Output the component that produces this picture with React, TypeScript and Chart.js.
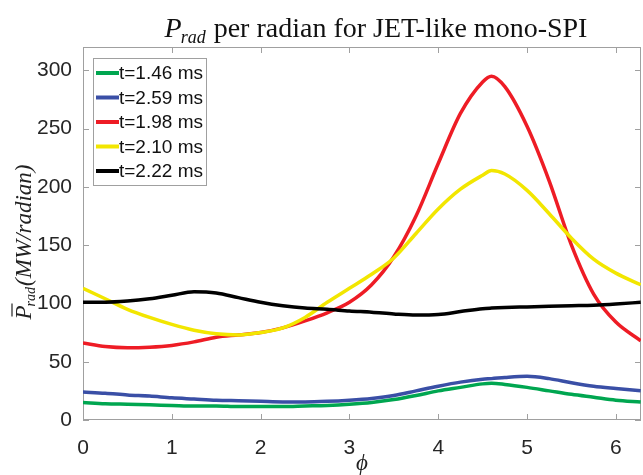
import React, { useEffect, useRef } from 'react';
import { Chart, registerables } from 'chart.js';

Chart.register(...registerables);

const PHI = [0, 0.25, 0.5, 0.75, 1, 1.25, 1.5, 1.75, 2, 2.25, 2.5, 2.75, 3, 3.25, 3.5, 3.75, 4, 4.25, 4.5, 4.6, 4.75, 5, 5.25, 5.5, 5.75, 6, 6.28];

const T146 = [15, 14, 13.5, 13, 12.5, 12, 12, 11.5, 11.5, 11.5, 12, 12.5, 13.5, 15, 17.5, 21, 25, 28, 31, 31.5, 30.5, 28, 25, 22, 19.5, 17, 15.5];
const T259 = [24, 23, 21.5, 20.5, 19, 18, 17, 16.5, 16, 15.5, 15.5, 16, 17, 18.5, 21, 25, 29, 32.5, 35, 35.5, 36.5, 37.5, 35.5, 32, 29, 27, 25];
const T198 = [66, 63, 62, 62.5, 64, 67, 71, 73, 75, 79, 85, 92, 101, 116, 140, 175, 220, 263, 290, 295, 286, 252, 205, 150, 108, 84, 68];
const T210 = [113, 104, 95, 88, 82, 77, 74, 73, 75, 79, 88, 101, 113, 125, 139, 160, 181, 198, 210, 214, 211, 197, 177, 156, 138, 126, 116];
const T222 = [101, 101, 102, 104, 107, 110, 109, 105, 101, 98, 96, 95, 93.5, 92.5, 91, 90, 90.5, 93, 95.5, 96, 96.5, 97, 97.5, 98, 98.5, 99.5, 101];

const LABELS = ['t=1.46 ms', 't=2.59 ms', 't=1.98 ms', 't=2.10 ms', 't=2.22 ms'];
const COLORS = ['#00a650', '#3a4fa6', '#ee1c25', '#f2e600', '#000000'];
const SERIES = [T146, T259, T198, T210, T222];

const X_TICKS = [0, 1, 2, 3, 4, 5, 6];
const Y_TICKS = [0, 50, 100, 150, 200, 250, 300];
const X_MAX = 6.2832;
const Y_MAX = 320;

const AXIS_COLOR = '#a0a0a0';
const TEXT_COLOR = '#262626';

const framePlugin = {
  id: 'frame',
  beforeDatasetsDraw(chart: any) {
    const { ctx, chartArea: a, scales } = chart;
    ctx.save();
    ctx.strokeStyle = AXIS_COLOR;
    ctx.lineWidth = 1;
    ctx.strokeRect(Math.round(a.left) + 0.5, Math.round(a.top) + 0.5, Math.round(a.right - a.left) - 1, Math.round(a.bottom - a.top) - 1);
    const L = 6;
    ctx.beginPath();
    for (const v of X_TICKS) {
      const px = Math.round(scales.x.getPixelForValue(v)) + 0.5;
      ctx.moveTo(px, a.bottom);
      ctx.lineTo(px, a.bottom - L);
      ctx.moveTo(px, a.top);
      ctx.lineTo(px, a.top + L);
    }
    for (const v of Y_TICKS) {
      const py = Math.round(scales.y.getPixelForValue(v)) + 0.5;
      ctx.moveTo(a.left, py);
      ctx.lineTo(a.left + L, py);
      ctx.moveTo(a.right, py);
      ctx.lineTo(a.right - L, py);
    }
    ctx.stroke();
    ctx.restore();
  },
  afterDraw(chart: any) {
    const { ctx, chartArea: a } = chart;
    ctx.save();
    // Title
    const cx = (a.left + a.right) / 2 + 14;
    const ty = 37;
    const big = 'italic 28px "Liberation Serif"';
    const sub = 'italic 18px "Liberation Serif"';
    const rest = '28px "Liberation Serif"';
    const restText = ' per radian for JET-like mono-SPI';
    ctx.font = big; const w1 = ctx.measureText('P').width;
    ctx.font = sub; const w2 = ctx.measureText('rad').width;
    ctx.font = rest; const w3 = ctx.measureText(restText).width;
    let x = cx - (w1 + w2 + w3) / 2;
    ctx.fillStyle = '#111';
    ctx.textBaseline = 'alphabetic';
    ctx.textAlign = 'left';
    ctx.font = big; ctx.fillText('P', x, ty); x += w1;
    ctx.font = sub; ctx.fillText('rad', x - 1, ty + 6); x += w2;
    ctx.font = rest; ctx.fillText(restText, x, ty);

    // Y axis label
    ctx.save();
    ctx.translate(31, 242);
    ctx.rotate(-Math.PI / 2);
    const yb = 'italic 23px "Liberation Serif"';
    const ys = 'italic 14px "Liberation Serif"';
    const yr = '(MW/radian)';
    ctx.font = yb; const p1 = ctx.measureText('P').width;
    ctx.font = ys; const p2 = ctx.measureText('rad').width;
    ctx.font = yb; const p3 = ctx.measureText(yr).width;
    let yx = -(p1 + p2 + p3) / 2;
    ctx.fillStyle = '#222';
    ctx.font = yb; ctx.fillText('P', yx, 0);
    ctx.strokeStyle = '#222'; ctx.lineWidth = 1.2;
    ctx.beginPath(); ctx.moveTo(yx + 3, -19); ctx.lineTo(yx + p1 + 2, -19); ctx.stroke();
    yx += p1;
    ctx.font = ys; ctx.fillText('rad', yx - 1, 4); yx += p2;
    ctx.font = yb; ctx.fillText(yr, yx, 0);
    ctx.restore();

    // X axis label
    ctx.font = 'italic 23px "Liberation Serif"';
    ctx.textAlign = 'center';
    ctx.fillStyle = '#222';
    ctx.fillText('\u03d5', (a.left + a.right) / 2, 470);

    // Legend
    const bx = 93, by = 58, bw = 113, bh = 127;
    ctx.fillStyle = '#ffffff';
    ctx.fillRect(bx, by, bw, bh);
    ctx.strokeStyle = AXIS_COLOR;
    ctx.lineWidth = 1;
    ctx.strokeRect(bx + 0.5, by + 0.5, bw, bh);
    ctx.font = '19px "Liberation Sans"';
    ctx.textAlign = 'left';
    ctx.textBaseline = 'middle';
    LABELS.forEach((lab, i) => {
      const ry = 73 + i * 24.5;
      ctx.strokeStyle = COLORS[i];
      ctx.lineWidth = 4;
      ctx.beginPath();
      ctx.moveTo(96, ry);
      ctx.lineTo(119, ry);
      ctx.stroke();
      ctx.fillStyle = '#111';
      ctx.fillText(lab, 119, ry + 1);
    });
    ctx.restore();
  },
};

export default function App() {
  const ref = useRef<HTMLCanvasElement>(null);
  useEffect(() => {
    document.body.style.margin = '0';
    const canvas = ref.current!;
    const chart = new Chart(canvas, {
      type: 'line',
      data: {
        datasets: SERIES.map((s, i) => ({
          label: LABELS[i],
          data: PHI.map((p, j) => ({ x: p, y: s[j] })),
          borderColor: COLORS[i],
          backgroundColor: COLORS[i],
          borderWidth: 3.5,
          pointRadius: 0,
          cubicInterpolationMode: 'monotone' as const,
          fill: false,
          order: SERIES.length - i,
        })),
      },
      options: {
        animation: false,
        responsive: false,
        maintainAspectRatio: false,
        layout: { padding: { top: 47, right: 2, left: 0, bottom: 0 } },
        plugins: { legend: { display: false }, title: { display: false }, tooltip: { enabled: false } },
        scales: {
          x: {
            type: 'linear',
            min: 0,
            max: X_MAX,
            grid: { display: false },
            border: { display: false },
            afterFit: (s: any) => { s.height = 55; },
            afterBuildTicks: (s: any) => { s.ticks = X_TICKS.map((v) => ({ value: v })); },
            ticks: {
              padding: 8,
              color: TEXT_COLOR,
              font: { family: '"Liberation Sans"', size: 21 },
              maxRotation: 0,
              callback: (v: any) => String(v),
            },
          },
          y: {
            type: 'linear',
            min: 0,
            max: Y_MAX,
            grid: { display: false },
            border: { display: false },
            afterFit: (s: any) => { s.width = 83; },
            afterBuildTicks: (s: any) => { s.ticks = Y_TICKS.map((v) => ({ value: v })); },
            ticks: {
              padding: 3,
              color: TEXT_COLOR,
              font: { family: '"Liberation Sans"', size: 21 },
              callback: (v: any) => String(v),
            },
          },
        },
      },
      plugins: [framePlugin],
    });
    return () => chart.destroy();
  }, []);
  return <canvas ref={ref} width={643} height={475} style={{ display: 'block' }} />;
}
